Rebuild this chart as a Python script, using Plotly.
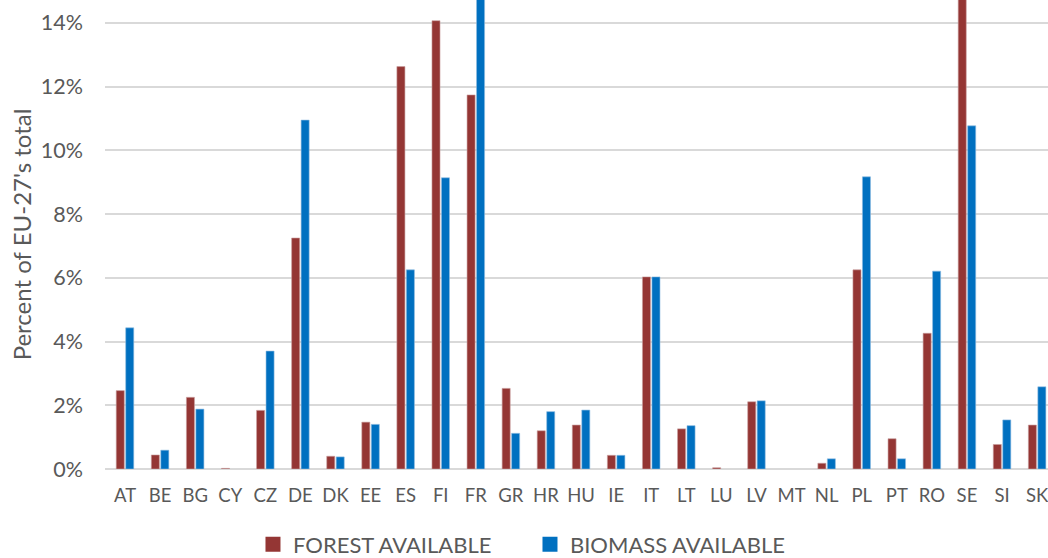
import plotly.graph_objects as go

# Member states (ISO codes)
countries = ["AT", "BE", "BG", "CY", "CZ", "DE", "DK", "EE", "ES", "FI", "FR", "GR", "HR", "HU",
             "IE", "IT", "LT", "LU", "LV", "MT", "NL", "PL", "PT", "RO", "SE", "SI", "SK"]

# Share of EU-27 total, in percent (None = nothing available)
forest_available = [2.46, 0.44, 2.25, 0.02, 1.84, 7.25, 0.40, 1.47, 12.63, 14.07, 11.74, 2.53, 1.20, 1.38,
                    0.43, 6.03, 1.26, 0.04, 2.11, None, 0.18, 6.25, 0.95, 4.26, 17.0, 0.77, 1.38]
biomass_available = [4.43, 0.59, 1.88, None, 3.70, 10.95, 0.38, 1.40, 6.25, 9.14, 15.6, 1.12, 1.80, 1.85,
                     0.43, 6.03, 1.36, None, 2.14, None, 0.32, 9.17, 0.32, 6.21, 10.77, 1.54, 2.58]

y_ticks = [0, 2, 4, 6, 8, 10, 12, 14]
y_tick_labels = [f"{v}%" for v in y_ticks]

RED = "#943634"
BLUE = "#0070C0"
TEXT = "#595959"
GRID = "#D9D9D9"
FONT = "Lato, Open Sans, sans-serif"

series = [
    ("FOREST AVAILABLE", forest_available, RED, "#C9A09F"),
    ("BIOMASS AVAILABLE", biomass_available, BLUE, "#8FBCE0"),
]

fig = go.Figure()
for name, values, color, edge in series:
    fig.add_trace(go.Bar(x=countries, y=values, name=name, showlegend=False,
                         marker=dict(color=color, line=dict(color=edge, width=0.6))))
# Legend entries with larger square swatches
for name, values, color, edge in series:
    fig.add_trace(go.Scatter(x=[None], y=[None], name=name, mode="markers",
                             marker=dict(symbol="square", size=15, color=color)))

fig.update_layout(
    width=1048, height=558,
    margin=dict(l=105, r=0, t=0, b=89),
    paper_bgcolor="white", plot_bgcolor="white",
    barmode="group", bargap=0.46, bargroupgap=0.15,
    font=dict(family=FONT, color=TEXT, size=18),
    showlegend=True,
    legend=dict(orientation="h", xref="container", yref="container",
                x=0.2414, y=0.062, xanchor="left", yanchor="top",
                font=dict(size=22, color=TEXT), itemwidth=30,
                traceorder="normal", entrywidth=232, entrywidthmode="pixels"),
)
fig.update_xaxes(
    type="category", range=[-0.57, 26.31],
    showgrid=False, showline=False, ticks="",
    tickfont=dict(size=18.5, color=TEXT), ticklabelstandoff=13,
)
fig.update_yaxes(
    range=[0, 14.72], tickvals=y_ticks, ticktext=y_tick_labels,
    showgrid=True, gridcolor=GRID, gridwidth=1.5,
    zeroline=True, zerolinecolor=GRID, zerolinewidth=1.5,
    showline=False, ticks="", ticklabelstandoff=21,
    tickfont=dict(size=21.5, color=TEXT),
    title=dict(text="Percent of EU-27's total", font=dict(size=24, color=TEXT), standoff=2),
)

fig.write_html("out.html")
